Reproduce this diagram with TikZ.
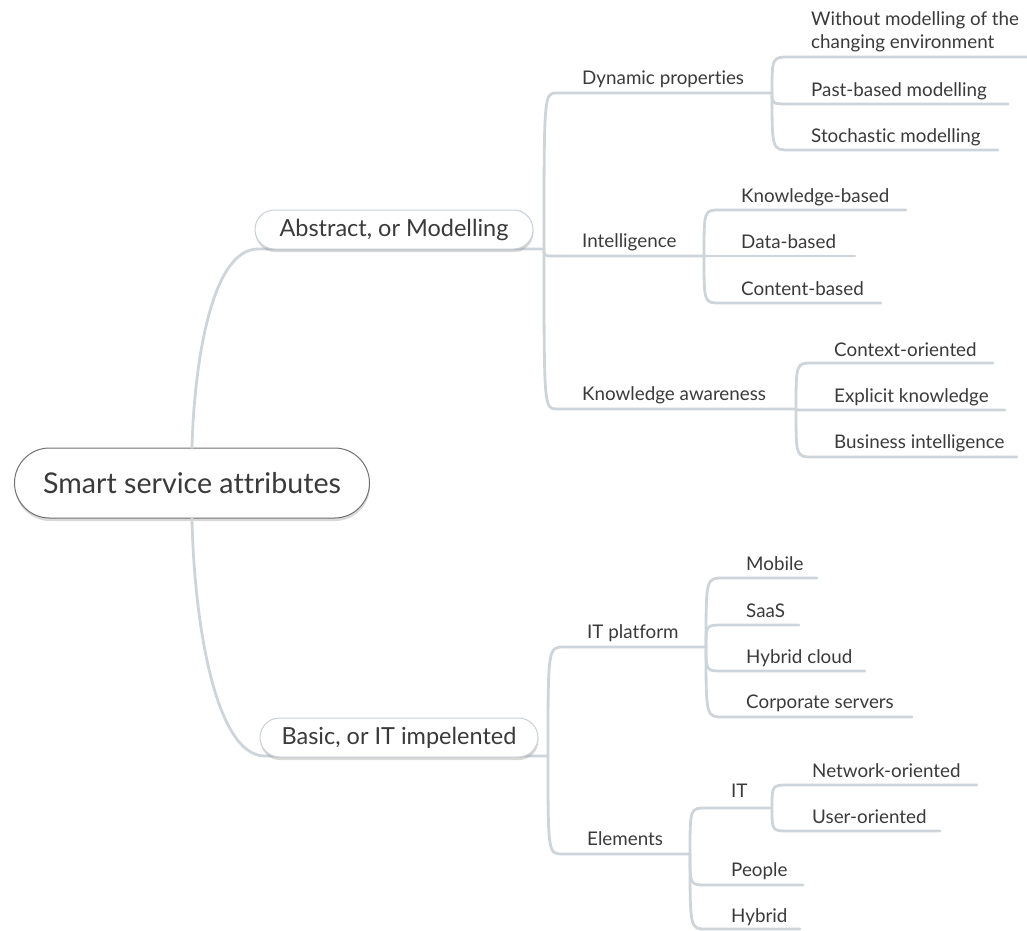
\documentclass[tikz,border=0pt]{standalone}
\usepackage{fontspec}
\setmainfont{Lato}[Ligatures={NoCommon}]
\usetikzlibrary{calc,shadows}
\definecolor{linec}{HTML}{CDD5DB}
\definecolor{txt}{HTML}{3A3A3A}
\definecolor{rootborder}{HTML}{707070}
\definecolor{lvborder}{HTML}{C8D0D6}
\newcommand\mmbranch[3]{\draw[conn] (#1) .. controls (#1 |- #2) .. ($(#1 |- #2)+(#3,0)$) -- (#2);}
\begin{document}
\begin{tikzpicture}[x=1pt,y=-1pt,
  conn/.style={draw=linec, line width=2.8pt, line cap=round},
  lbl/.style={anchor=base west, inner sep=0pt, text=txt, font=\fontsize{18.8}{23}\selectfont},
  rootbox/.style={draw=rootborder, line width=1pt, fill=white, rounded corners=35pt,
    minimum width=355pt, minimum height=70pt, inner sep=0pt, text=txt,
    font=\fontsize{28.6}{32}\selectfont,
    drop shadow={shadow xshift=0.5pt, shadow yshift=-3pt, opacity=0.3, fill=black!50}},
  lvbox/.style={draw=lvborder, line width=1pt, fill=white, rounded corners=19.5pt,
    minimum width=278pt, minimum height=39pt, inner sep=0pt, text=txt,
    font=\fontsize{23.5}{27}\selectfont,
    drop shadow={shadow xshift=0.5pt, shadow yshift=-3pt, opacity=0.3, fill=black!50}}]
\useasboundingbox (0,0) rectangle (1027,930);

% ---------- coordinates (underline ends) ----------
\coordinate (aEnd) at (544,249);
\coordinate (bEnd) at (548,756);
\coordinate (dynE) at (772,93);
\coordinate (intelE) at (704,256);
\coordinate (knowE) at (796,409);
\coordinate (w1E) at (1027,57);
\coordinate (w2E) at (1008,104);
\coordinate (w3E) at (998,150);
\coordinate (k1E) at (906,210);
\coordinate (k2E) at (855,256);
\coordinate (k3E) at (881,303);
\coordinate (c1E) at (993,363);
\coordinate (c2E) at (1005,410);
\coordinate (c3E) at (1017,457);
\coordinate (itpE) at (706,647);
\coordinate (elemE) at (690,854);
\coordinate (m1E) at (817,578);
\coordinate (m2E) at (799,625);
\coordinate (m3E) at (865,671);
\coordinate (m4E) at (912,717);
\coordinate (itE) at (772,808);
\coordinate (peE) at (803,885);
\coordinate (hyE) at (800,929);
\coordinate (n1E) at (977,785);
\coordinate (n2E) at (940,831);

% ---------- main nodes ----------
\node[rootbox] (root) at (192,483) {Smart service attributes};

% ---------- connectors ----------
\draw[conn] (root.north) .. controls ($(root.north)+(2,-78)$) and ($(root.north |- aEnd)+(18,0)$) .. ($(root.north |- aEnd)+(66,0)$) -- (aEnd);
\draw[conn] (root.south) .. controls ($(root.south)+(2,102)$) and ($(root.south |- bEnd)+(23,0)$) .. ($(root.south |- bEnd)+(73,0)$) -- (bEnd);

\mmbranch{aEnd}{dynE}{13}
\mmbranch{aEnd}{intelE}{12}
\mmbranch{aEnd}{knowE}{13}
\mmbranch{dynE}{w1E}{18}
\mmbranch{dynE}{w2E}{18}
\mmbranch{dynE}{w3E}{18}
\mmbranch{intelE}{k1E}{16}
\mmbranch{intelE}{k2E}{16}
\mmbranch{intelE}{k3E}{16}
\mmbranch{knowE}{c1E}{17}
\mmbranch{knowE}{c2E}{17}
\mmbranch{knowE}{c3E}{17}
\mmbranch{bEnd}{itpE}{16}
\mmbranch{bEnd}{elemE}{15}
\mmbranch{itpE}{m1E}{17}
\mmbranch{itpE}{m2E}{17}
\mmbranch{itpE}{m3E}{17}
\mmbranch{itpE}{m4E}{17}
\mmbranch{elemE}{itE}{16}
\mmbranch{elemE}{peE}{16}
\mmbranch{elemE}{hyE}{16}
\mmbranch{itE}{n1E}{17}
\mmbranch{itE}{n2E}{17}

% ---------- level-1 pills ----------
\node[lvbox] (abs) at (394,229.5) {Abstract, or Modelling};
\node[lvbox] (bas) at (399,737.5) {Basic, or IT impelented};

% ---------- labels ----------
\node[lbl] (dyn) at (582,84) {Dynamic properties};
\node[lbl] (intel) at (582,247) {Intelligence};
\node[lbl] (know) at (582,400) {Knowledge awareness};
\node[anchor=south west, inner sep=0pt, text=txt, align=left, font=\fontsize{18.8}{23}\selectfont] (w1) at (811,52.5) {Without modelling of the\\changing environment};
\node[lbl] (w2) at (811,96) {Past-based modelling};
\node[lbl] (w3) at (811,142) {Stochastic modelling};
\node[lbl] (k1) at (741,202) {Knowledge-based};
\node[lbl] (k2) at (741,248) {Data-based};
\node[lbl] (k3) at (741,295) {Content-based};
\node[lbl] (c1) at (834,356) {Context-oriented};
\node[lbl] (c2) at (834,402) {Explicit knowledge};
\node[lbl] (c3) at (834,448) {Business intelligence};
\node[lbl] (itp) at (587,638) {IT platform};
\node[lbl] (elem) at (587,845) {Elements};
\node[lbl] (m1) at (746,570) {Mobile};
\node[lbl] (m2) at (746,617) {SaaS};
\node[lbl] (m3) at (746,663) {Hybrid cloud};
\node[lbl] (m4) at (746,708) {Corporate servers};
\node[lbl] (it) at (731,797) {IT};
\node[lbl] (pe) at (731,876) {People};
\node[lbl] (hy) at (731,922) {Hybrid};
\node[lbl] (n1) at (812,777) {Network-oriented};
\node[lbl] (n2) at (812,823) {User-oriented};
\end{tikzpicture}
\end{document}
